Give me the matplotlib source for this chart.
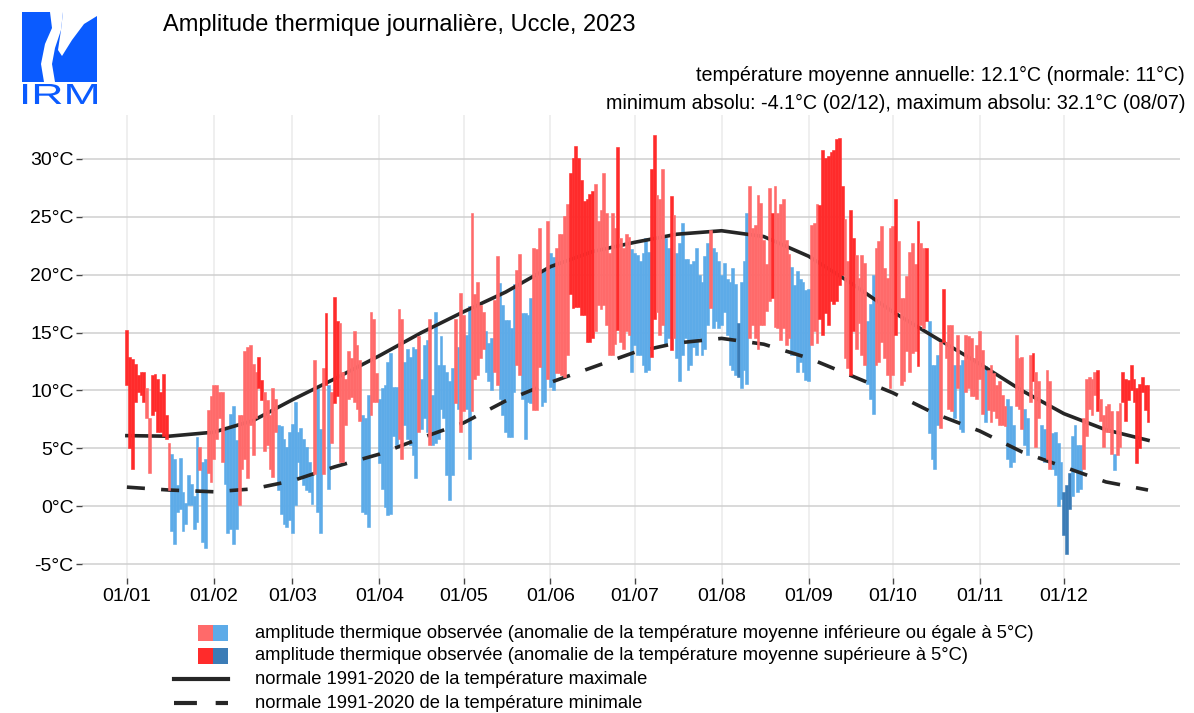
import numpy as np
import matplotlib.pyplot as plt
from matplotlib.patches import Rectangle, Polygon, PathPatch
from matplotlib.lines import Line2D
from matplotlib.textpath import TextPath
from matplotlib.font_manager import FontProperties
from matplotlib.transforms import Affine2D

plt.rcParams['font.family'] = ['Liberation Sans', 'DejaVu Sans']

# jours du 1er de chaque mois (index 0 = 01/01/2023)
month_starts = [0, 31, 59, 90, 120, 151, 181, 212, 243, 273, 304, 334]
month_labels = ['01/01', '01/02', '01/03', '01/04', '01/05', '01/06',
                '01/07', '01/08', '01/09', '01/10', '01/11', '01/12']

# températures maximales journalières (°C), un mois par ligne
tmax = [
    15.2, 12.9, 12.7, 12.3, 11.3, 11.6, 11.6, 10.2, 7.6, 11.3, 11.4, 11.0, 9.9, 11.4, 7.9, 5.5, 4.5, 4.1, 1.8, 4.2, 1.2, 0.3, 2.7, 1.9, 0.9, 6.0, 5.1, 3.8, 4.1, 8.3, 9.5,
    10.5, 10.5, 9.9, 9.9, 6.7, 6.7, 8.0, 8.7, 5.7, 7.9, 7.9, 13.4, 13.8, 13.9, 12.3, 11.6, 12.9, 10.9, 9.9, 9.2, 7.9, 10.2, 9.3, 7.0, 6.9, 5.8, 5.1, 6.4,
    7.1, 9.0, 6.4, 6.8, 5.8, 5.1, 3.8, 2.8, 12.6, 10.2, 6.7, 11.9, 16.7, 10.5, 9.9, 18.1, 16.0, 15.8, 11.6, 11.0, 13.4, 12.8, 15.1, 13.9, 12.6, 7.9, 7.6, 9.6, 16.8, 16.2, 11.5,
    9.3, 10.2, 10.5, 12.5, 13.2, 10.3, 10.3, 17.0, 16.2, 12.5, 13.6, 12.9, 13.8, 13.6, 14.7, 11.0, 13.9, 14.4, 16.2, 9.6, 16.8, 12.2, 14.7, 12.2, 11.6, 10.8, 11.9, 16.2, 13.8, 18.4,
    16.5, 14.8, 17.3, 25.3, 18.3, 19.4, 17.4, 16.8, 15.1, 14.1, 14.5, 17.8, 21.6, 19.3, 17.4, 16.1, 16.1, 15.4, 19.2, 20.4, 21.8, 16.7, 16.7, 16.5, 18.0, 22.3, 22.2, 24.0, 20.3, 20.3, 24.6,
    21.9, 21.5, 22.3, 23.5, 23.5, 25.1, 26.1, 28.8, 30.1, 31.1, 30.1, 28.2, 26.4, 26.5, 27.0, 27.2, 27.8, 24.6, 25.6, 28.8, 25.3, 21.9, 25.3, 24.0, 31.0, 23.2, 22.3, 23.5, 23.3, 22.2,
    21.9, 21.7, 21.2, 21.9, 23.2, 22.0, 29.1, 32.1, 26.9, 26.5, 29.1, 23.2, 22.3, 26.8, 25.2, 21.9, 22.7, 24.5, 21.4, 21.4, 20.9, 21.2, 22.3, 20.0, 19.4, 21.6, 22.7, 23.9, 22.3, 22.0, 21.2,
    20.0, 21.0, 19.6, 19.4, 20.6, 19.2, 15.8, 19.4, 21.2, 25.3, 27.7, 24.0, 24.3, 26.9, 26.2, 23.0, 20.9, 27.5, 25.3, 27.7, 25.3, 26.1, 26.5, 23.0, 21.8, 20.7, 19.1, 20.3, 19.6, 19.4, 18.7,
    18.8, 24.3, 24.5, 26.1, 26.0, 30.8, 30.1, 30.3, 30.6, 30.8, 31.7, 31.8, 27.7, 24.8, 21.2, 25.6, 23.2, 21.7, 19.7, 21.7, 21.0, 16.0, 17.5, 20.0, 22.3, 22.9, 24.2, 20.6, 19.7, 24.0,
    24.2, 26.5, 22.9, 18.0, 18.0, 19.9, 22.0, 22.7, 20.9, 24.6, 22.7, 22.3, 22.3, 16.0, 12.2, 12.2, 13.1, 14.2, 18.8, 14.2, 15.7, 15.7, 12.2, 14.8, 12.2, 12.6, 14.8, 14.7, 14.5, 12.8, 13.9,
    15.1, 13.5, 12.1, 11.8, 12.2, 11.5, 10.5, 10.8, 9.6, 8.7, 9.3, 8.7, 7.0, 14.8, 12.8, 12.9, 8.4, 7.6, 13.1, 13.2, 11.6, 10.8, 7.0, 6.7, 11.8, 10.8, 6.3, 6.4, 5.5, 3.8,
    1.2, 1.8, 2.9, 6.1, 7.0, 5.3, 5.3, 7.6, 11.0, 11.2, 11.0, 11.6, 11.8, 9.3, 7.9, 8.7, 8.8, 8.2, 4.5, 8.2, 8.9, 11.6, 11.0, 10.9, 12.2, 11.0, 10.2, 10.6, 11.2, 10.5, 10.5,
]

# températures minimales journalières (°C)
tmin = [
    10.5, 5.0, 3.2, 9.0, 9.9, 9.6, 9.0, 7.6, 2.9, 7.9, 8.2, 6.4, 6.4, 6.1, 5.8, 1.4, -2.1, -3.3, -0.5, -0.2, -2.1, -1.5, 0.1, 0.1, -2.0, -1.4, 3.1, -3.1, -3.6, 2.9, 2.1,
    4.1, 5.8, 7.6, 3.8, 1.9, -2.3, -2.0, -3.3, -2.0, 0.1, 3.2, 4.1, 2.4, 7.0, 4.4, 7.6, 10.2, 9.2, 4.8, 5.3, 3.2, 2.5, 6.4, 1.4, -0.7, -1.5, -1.8, -1.2,
    -2.3, 0.1, 3.8, 2.4, 1.8, 1.4, 1.2, 0.2, 2.8, -0.5, -2.3, 2.8, 10.5, 1.5, 5.5, 8.9, 9.5, 3.8, 3.8, 7.0, 9.3, 9.4, 9.0, 8.4, 7.4, -0.5, -0.7, -1.8, 7.9, 9.0, 9.0,
    3.7, 1.5, -0.1, -0.8, -0.7, 6.1, 5.3, 5.8, 4.1, 7.0, 5.8, 5.3, 4.4, 2.4, 6.4, 6.7, 7.6, 6.4, 5.3, 5.3, 5.5, 5.8, 8.4, 7.6, 2.7, 0.5, 2.7, 8.9, 8.4, 6.4,
    8.2, 8.4, 4.1, 8.2, 11.0, 11.3, 12.8, 13.6, 11.6, 10.8, 10.0, 11.6, 10.5, 9.3, 7.9, 6.4, 6.0, 6.0, 9.9, 12.2, 11.3, 9.3, 5.8, 9.0, 8.9, 8.3, 8.3, 12.0, 8.7, 9.0, 11.0,
    10.3, 10.0, 11.5, 11.5, 11.3, 11.2, 13.1, 18.3, 17.1, 17.2, 17.2, 16.5, 16.5, 14.2, 14.2, 14.5, 15.1, 17.4, 17.0, 17.4, 15.7, 13.1, 13.1, 14.0, 15.2, 14.2, 13.6, 15.1, 14.8, 11.6,
    13.9, 13.1, 13.1, 12.2, 11.6, 11.8, 12.9, 16.2, 16.8, 14.8, 15.7, 13.9, 14.5, 13.5, 14.5, 12.8, 10.8, 13.1, 14.5, 11.8, 12.2, 13.8, 13.1, 14.5, 13.1, 13.6, 15.7, 17.1, 15.4, 16.0, 15.4,
    15.7, 16.8, 14.8, 12.2, 11.8, 11.3, 11.2, 10.2, 11.8, 10.6, 14.5, 15.7, 14.5, 13.6, 15.7, 15.7, 16.9, 17.7, 18.0, 15.5, 15.4, 14.4, 15.4, 13.9, 14.5, 13.1, 13.1, 11.6, 12.5, 11.6, 10.9,
    10.8, 13.9, 15.1, 14.1, 16.2, 14.8, 16.7, 15.7, 17.7, 17.5, 17.7, 19.1, 20.0, 12.8, 11.9, 11.3, 15.1, 13.6, 15.8, 13.1, 12.2, 10.6, 9.3, 8.0, 12.2, 12.5, 14.2, 12.8, 11.3, 10.2,
    11.3, 14.8, 16.8, 10.5, 10.8, 13.4, 11.6, 13.2, 13.4, 12.1, 15.7, 15.4, 16.0, 6.3, 4.1, 3.2, 7.0, 6.8, 14.2, 12.8, 8.4, 8.2, 7.6, 10.2, 6.7, 6.4, 9.9, 10.2, 9.5, 9.5, 9.3,
    11.0, 8.0, 7.3, 8.3, 7.3, 8.2, 7.6, 7.0, 7.0, 6.9, 4.1, 3.4, 3.8, 8.7, 8.4, 6.7, 5.3, 4.4, 9.0, 10.8, 5.1, 7.6, 4.1, 3.8, 4.1, 3.2, 3.2, 2.7, 0.0, 0.6,
    -2.5, -4.1, -0.2, 0.9, 3.2, 1.2, 1.5, 3.2, 6.1, 8.4, 7.9, 9.6, 8.2, 7.4, 5.1, 6.4, 6.4, 4.5, 3.1, 4.4, 5.1, 9.0, 7.4, 9.2, 10.0, 9.0, 3.7, 5.0, 9.9, 8.3, 7.3,
]

# classe d'anomalie par jour : r/b = |anomalie| <= 5°C, R/B = > 5°C
anomaly_class = "".join([
    "RRRRRRRrrRRRRRRrbbbbbbbbbbrbbrr",
    "rrrrbbbbbrrrrrrrRRrrrrrbbbbb",
    "bbbbbbbbrbbrRbrRRrrrrrrrrbbbrrr",
    "bbbbbbbrrbbbbbrbbbrbbbbbbbbrbr",
    "rbbrrrrrbbbrrbbbbbbrrbbbbrrrbbr",
    "bbrrrrrRRRRRRRRRrrrrrrrrRrrrrb",
    "bbbbbbRRrrrbbRrbbbbbbbbbbbbrbbb",
    "bbbbbbBbbbrrrrrrrrRrrrrrrbbbbbb",
    "brrrRRRRRRRRRrrRRrrrrbbbrrrrrr",
    "rRrrrrrrrRrrRbbbbrRrrrbrbbrrrrr",
    "rrbrrrrrrrbbbrrrbbrRrrbbrrbbbb",
    "BBBbbbbrrrrrRrrrrrbrrRRRRRRRRRR",
])

# normales 1991-2020 (°C) à quelques dates
normal_days = [0, 15, 31, 45, 59, 74, 90, 105, 120, 135, 151, 166, 181,
               196, 212, 227, 243, 258, 273, 288, 304, 319, 334, 349, 364]
normal_max = [6.1, 6.05, 6.4, 7.4, 9.2, 11.0, 13.0, 15.0, 16.8, 18.5, 20.7, 22.0, 22.8,
              23.5, 23.8, 23.3, 21.6, 19.3, 16.8, 14.6, 12.3, 10.0, 8.0, 6.6, 5.7]
normal_min = [1.65, 1.4, 1.25, 1.5, 2.2, 3.4, 4.5, 5.9, 7.2, 9.1, 10.7, 12.0, 13.3,
              14.1, 14.5, 14.0, 12.8, 11.3, 9.8, 8.0, 6.5, 4.7, 3.4, 2.1, 1.4]

colours = {'r': '#FF6A6A', 'R': '#FF2B2B', 'b': '#5DABE8', 'B': '#3B7CB6'}
W, H = 1194, 713


def fx(px):
    return px / W


def fy(py):
    return 1 - py / H


fig = plt.figure(figsize=(W / 100, H / 100), dpi=100)
ax = fig.add_axes([fx(82), fy(578), fx(1180) - fx(82), fy(115) - fy(578)])

days = np.arange(len(tmax))
lo = np.array(tmin)
hi = np.array(tmax)
cls = np.array(list(anomaly_class))
for keys, z in [('bB', 2), ('rR', 4)]:
    m = np.isin(cls, list(keys))
    cols = [colours[c] for c in cls[m]]
    ax.bar(days[m], hi[m] - lo[m], bottom=lo[m], width=1.0,
           color=cols, edgecolor=cols, linewidth=0.4, zorder=z)

ax.plot(normal_days, normal_max, color='#262626', lw=2.6, zorder=3)
ax.plot(normal_days, normal_min, color='#262626', lw=2.6, dashes=(5, 4.5), zorder=3)

ax.set_xlim(-16.0, 375.4)
ax.set_ylim(-6.2, 33.8)
ax.set_xticks(month_starts)
ax.set_xticklabels(month_labels)
yt = [-5, 0, 5, 10, 15, 20, 25, 30]
ax.set_yticks(yt)
ax.set_yticklabels([f'{v}°C' for v in yt])
ax.tick_params(labelsize=14, length=4, width=1, color='#444444', labelcolor='black')
ax.tick_params(axis='x', pad=3)
ax.tick_params(axis='y', pad=2)
for s in ax.spines.values():
    s.set_visible(False)
ax.grid(axis='y', color='#CFCFCF', lw=1.1, zorder=0)
ax.grid(axis='x', color='#EBEBEB', lw=1.1, zorder=0)
ax.set_axisbelow(True)

# titre et résumé
fig.text(fx(163), fy(25), 'Amplitude thermique journalière, Uccle, 2023',
         fontsize=17, va='center', ha='left')
fig.text(fx(1185), fy(75), 'température moyenne annuelle: 12.1°C (normale: 11°C)',
         fontsize=14.2, va='center', ha='right')
fig.text(fx(1185), fy(103), 'minimum absolu: -4.1°C (02/12), maximum absolu: 32.1°C (08/07)',
         fontsize=14.2, va='center', ha='right')

# logo IRM (approximatif)
blue = '#0A5BFF'
fig.patches.append(Rectangle((fx(22), fy(82)), fx(97) - fx(22), fy(12) - fy(82),
                             transform=fig.transFigure, color=blue, lw=0))
stripe = [(50, 12), (63, 12), (61, 30), (55, 48), (52, 64), (55, 82),
          (44, 82), (41, 64), (45, 44), (52, 28)]
fig.patches.append(Polygon([(fx(x), fy(y)) for x, y in stripe], closed=True,
                           transform=fig.transFigure, color='white', lw=0))
wedge = [(63, 12), (97, 12), (97, 16), (84, 24), (72, 40), (62, 56), (58, 50), (61, 30)]
fig.patches.append(Polygon([(fx(x), fy(y)) for x, y in wedge], closed=True,
                           transform=fig.transFigure, color='white', lw=0))
tp = TextPath((0, 0), 'IRM', size=1, prop=FontProperties(family='Liberation Sans'))
bb = tp.get_extents()
tr = Affine2D().translate(-bb.x0, -bb.y0).scale((fx(97) - fx(23)) / bb.width,
                                                 (fy(84) - fy(104)) / bb.height)
tr = tr.translate(fx(23), fy(104))
fig.patches.append(PathPatch(tr.transform_path(tp), transform=fig.transFigure,
                             color=blue, lw=0))

# légende
rows = [633, 656, 679, 703]
legend_txt = [
    'amplitude thermique observée (anomalie de la température moyenne inférieure ou égale à 5°C)',
    'amplitude thermique observée (anomalie de la température moyenne supérieure à 5°C)',
    'normale 1991-2020 de la température maximale',
    'normale 1991-2020 de la température minimale',
]
for row, (cr, cb) in zip(rows[:2], [('r', 'b'), ('R', 'B')]):
    for x0, c in [(198, cr), (213, cb)]:
        fig.patches.append(Rectangle((fx(x0), fy(row + 8)), fx(15), fy(0) - fy(16),
                                     transform=fig.transFigure, color=colours[c], lw=0))
fig.lines.append(Line2D([fx(174), fx(228)], [fy(rows[2])] * 2, transform=fig.transFigure,
                        color='#262626', lw=3))
fig.lines.append(Line2D([fx(174), fx(228)], [fy(rows[3])] * 2, transform=fig.transFigure,
                        color='#262626', lw=3, dashes=(5.5, 4.5)))
for row, t in zip(rows, legend_txt):
    fig.text(fx(255), fy(row), t, fontsize=13.2, va='center', ha='left')

fig.savefig('out.png', dpi=100)
